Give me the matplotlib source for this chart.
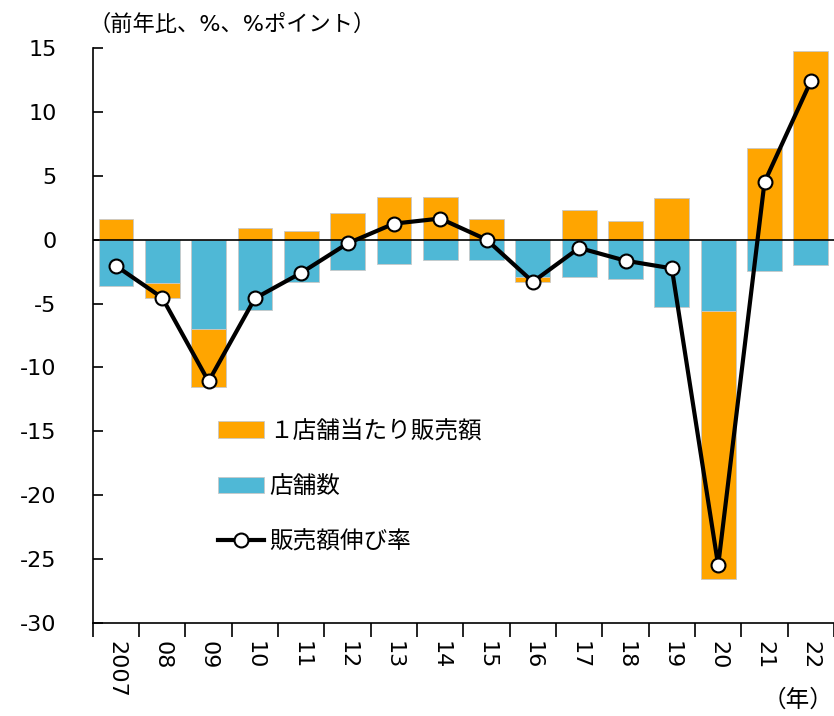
import numpy as np
import matplotlib
matplotlib.use("Agg")
import matplotlib.pyplot as plt
from matplotlib.patches import Patch
from matplotlib.lines import Line2D

plt.rcParams['font.family'] = ['DejaVu Sans', 'Noto Sans CJK JP']
plt.rcParams['axes.unicode_minus'] = False

# データ（前年比、%、%ポイント）
years = ['2007', '08', '09', '10', '11', '12', '13', '14',
         '15', '16', '17', '18', '19', '20', '21', '22']
per_store = [1.6, -1.2, -4.5, 0.9, 0.7, 2.05, 3.3, 3.3,
             1.65, -0.35, 2.35, 1.45, 3.25, -21.0, 7.15, 14.8]
stores = [-3.6, -3.4, -7.0, -5.5, -3.3, -2.35, -1.9, -1.6,
          -1.6, -2.95, -2.95, -3.05, -5.3, -5.6, -2.45, -2.0]
sales_growth = [-2.05, -4.55, -11.1, -4.6, -2.6, -0.3, 1.25, 1.65,
                0.0, -3.3, -0.65, -1.65, -2.25, -25.5, 4.5, 12.4]

orange = '#ffa500'
blue = '#4fb8d6'

x = np.arange(len(years))
per_store = np.array(per_store)
stores = np.array(stores)
# マイナスの1店舗当たり販売額は店舗数の下に積む
orange_bottom = np.where(per_store >= 0, 0, stores)

fig = plt.figure(figsize=(8.34, 7.16), dpi=100)
ax = fig.add_axes([0.1112, 0.13, 0.8888, 0.803])

ax.bar(x, stores, width=0.75, color=blue, edgecolor='#c8c8c8', linewidth=0.6, zorder=2)
ax.bar(x, per_store, bottom=orange_bottom, width=0.75, color=orange,
       edgecolor='#c8c8c8', linewidth=0.6, zorder=2)
ax.axhline(0, color='black', linewidth=1.2, zorder=3)
ax.plot(x, sales_growth, color='black', linewidth=3, marker='o', markersize=10,
        markerfacecolor='white', markeredgecolor='black', markeredgewidth=1.5, zorder=4)

ax.set_ylim(-30, 15)
ax.set_yticks(np.arange(-30, 16, 5))
ax.set_xlim(-0.5, 15.27)
ax.set_xticks(x)
ax.set_xticklabels(years, rotation=-90, fontsize=16, va='top')
ax.set_xticks(np.arange(-0.5, 16, 1), minor=True)
ax.tick_params(axis='x', which='major', length=0, pad=13)
ax.tick_params(axis='x', which='minor', length=10, width=1.2, direction='out')
ax.tick_params(axis='y', length=7, width=1.2, direction='in', labelsize=16, pad=26)

for s in ['top', 'right']:
    ax.spines[s].set_visible(False)
ax.spines['left'].set_linewidth(1.2)
ax.spines['bottom'].set_linewidth(1.2)

handles = [
    Patch(facecolor=orange, edgecolor='#c8c8c8', linewidth=0.6),
    Patch(facecolor=blue, edgecolor='#c8c8c8', linewidth=0.6),
    Line2D([0], [0], color='black', linewidth=3, marker='o', markersize=10,
           markerfacecolor='white', markeredgecolor='black', markeredgewidth=1.5),
]
labels = ['１店舗当たり販売額', '店舗数', '販売額伸び率']
ax.legend(handles, labels, loc='upper left', bbox_to_anchor=(0.169, 0.355),
          frameon=False, fontsize=17, handlelength=1.95, handletextpad=0.22,
          labelspacing=1.33, borderpad=0, borderaxespad=0, numpoints=1)

fig.text(88 / 834, 1 - 24 / 716, '（前年比、%、%ポイント）', fontsize=16,
         ha='left', va='center')
fig.text(0.999, 1 - 700 / 716, '（年）', fontsize=17, ha='right', va='center')

fig.savefig('out.png', dpi=100)
